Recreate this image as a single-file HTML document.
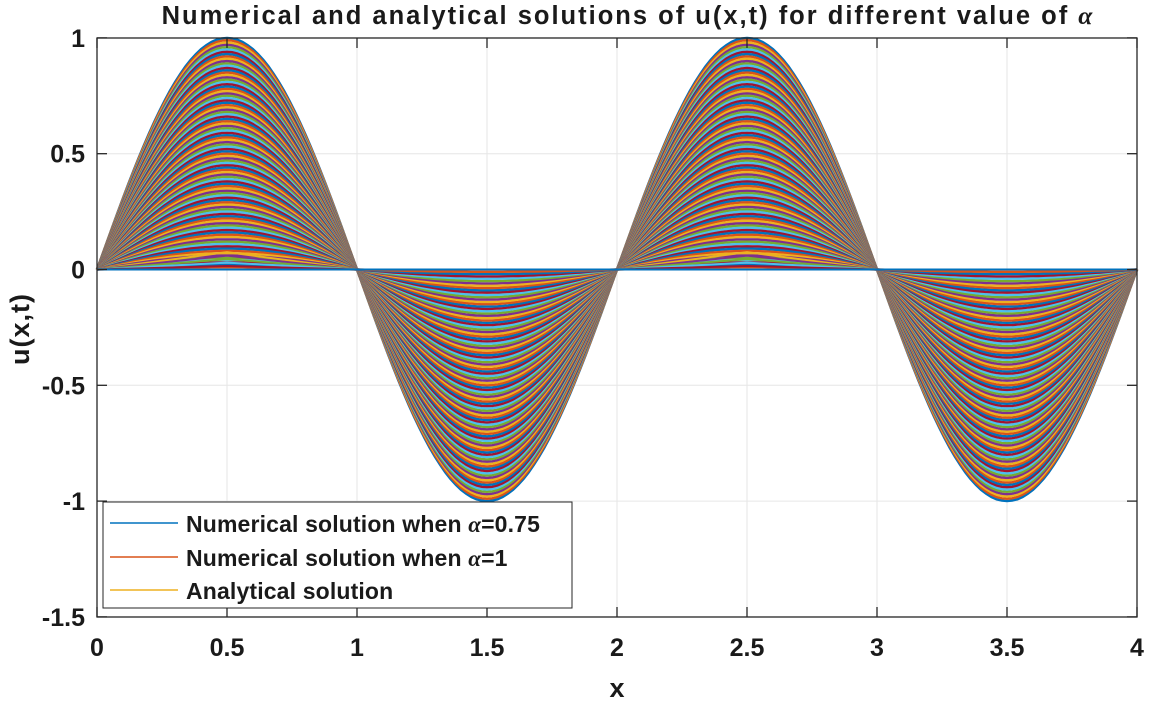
<!DOCTYPE html>
<html><head><meta charset="utf-8"><style>
body{margin:0;background:#fff;width:1150px;height:700px;overflow:hidden}
svg text{font-family:"Liberation Sans",sans-serif;font-weight:bold;fill:#1a1a1a}
</style></head><body>
<svg id="chart" width="1150" height="700" viewBox="0 0 1150 700">
<rect x="0" y="0" width="1150" height="700" fill="#fff"/>
<g id="grid"></g>
<g id="curves"></g>
<rect x="97" y="38" width="1040" height="579" fill="none" stroke="#262626" stroke-width="1.3"/>
<g id="ticks"></g>
<text x="628" y="24" text-anchor="middle" font-size="25.5" letter-spacing="2">Numerical and analytical solutions of u(x,t) for different value of <tspan font-family="Liberation Serif" font-style="italic">α</tspan></text>
<text x="617" y="697" text-anchor="middle" font-size="27">x</text>
<text transform="translate(29,329) rotate(-90)" text-anchor="middle" font-size="27" letter-spacing="1">u(x,t)</text>
<g>
<rect x="103" y="502" width="469" height="106" fill="#fff" stroke="#262626" stroke-width="1"/>
<line x1="110" y1="523" x2="178" y2="523" stroke="#0072BD" stroke-width="1.5"/>
<text x="186" y="532" font-size="23" letter-spacing="0.15">Numerical solution when <tspan font-family="Liberation Serif" font-style="italic">α</tspan>=0.75</text>
<line x1="110" y1="557" x2="178" y2="557" stroke="#D95319" stroke-width="1.5"/>
<text x="186" y="566" font-size="23" letter-spacing="0.15">Numerical solution when <tspan font-family="Liberation Serif" font-style="italic">α</tspan>=1</text>
<line x1="110" y1="590" x2="178" y2="590" stroke="#EDB120" stroke-width="1.5"/>
<text x="186" y="599" font-size="23" letter-spacing="0.15">Analytical solution</text>
</g>
</svg>
<script>
const xTicks=[0,0.5,1,1.5,2,2.5,3,3.5,4];
const yTicks=[1,0.5,0,-0.5,-1,-1.5];
const yTickLabels=["1","0.5","0","-0.5","-1","-1.5"];
const amplitudes=[1.00,0.99,0.98,0.97,0.96,0.95,0.94,0.93,0.92,0.91,0.90,0.89,0.88,0.87,0.86,0.85,0.84,0.83,0.82,0.81,0.80,0.79,0.78,0.77,0.76,0.75,0.74,0.73,0.72,0.71,0.70,0.69,0.68,0.67,0.66,0.65,0.64,0.63,0.62,0.61,0.60,0.59,0.58,0.57,0.56,0.55,0.54,0.53,0.52,0.51,0.50,0.49,0.48,0.47,0.46,0.45,0.44,0.43,0.42,0.41,0.40,0.39,0.38,0.37,0.36,0.35,0.34,0.33,0.32,0.31,0.30,0.29,0.28,0.27,0.26,0.25,0.24,0.23,0.22,0.21,0.20,0.19,0.18,0.17,0.16,0.15,0.14,0.13,0.12,0.11,0.10,0.09,0.08,0.07,0.06,0.05,0.04,0.03,0.02,0.01];
const smallPeaks=[0.075,0.06,0.045,0.03,0.015,0];
const colors=["#0072BD","#D95319","#EDB120","#7E2F8E","#77AC30","#4DBEEE","#A2142F"];
const X=v=>97+v*260, Y=v=>269.5-v*231.6;
const NS="http://www.w3.org/2000/svg";
const grid=document.getElementById('grid'),ticks=document.getElementById('ticks'),curves=document.getElementById('curves');
function mk(t,a,p){const e=document.createElementNS(NS,t);for(const k in a)e.setAttribute(k,a[k]);p.appendChild(e);return e;}
xTicks.forEach((v,i)=>{
 const g=mk('line',{x1:X(v),x2:X(v),y1:38,y2:617,stroke:'#e6e6e6','stroke-width':1},grid);
 
 
 mk('line',{x1:X(v),x2:X(v),y1:617,y2:607,stroke:'#262626','stroke-width':1.3},ticks);
 mk('line',{x1:X(v),x2:X(v),y1:38,y2:48,stroke:'#262626','stroke-width':1.3},ticks);
 const t=mk('text',{x:X(v),y:656,'text-anchor':'middle','font-size':25},ticks);
 t.textContent=String(v);
 
 
});
yTicks.forEach((v,i)=>{
 const g=mk('line',{x1:97,x2:1137,y1:Y(v),y2:Y(v),stroke:'#e6e6e6','stroke-width':1},grid);
 
 
 mk('line',{x1:97,x2:107,y1:Y(v),y2:Y(v),stroke:'#262626','stroke-width':1.3},ticks);
 mk('line',{x1:1127,x2:1137,y1:Y(v),y2:Y(v),stroke:'#262626','stroke-width':1.3},ticks);
 const t=mk('text',{x:85,y:Y(v)+9,'text-anchor':'end','font-size':25},ticks);
 t.textContent=yTickLabels[i];
 
 
});
let ci=0;
amplitudes.forEach(a=>{
 let d='';
 for(let k=0;k<=200;k++){const xv=k*4/200;d+=(k?'L':'M')+X(xv).toFixed(1)+','+Y(a*Math.sin(Math.PI*xv)).toFixed(1);}
 const p=mk('path',{d:d,fill:'none',stroke:colors[ci%7],'stroke-width':2.4},curves);
 
 
 ci++;
});
smallPeaks.forEach(a=>{
 const pts=[0,0.5,1,1.5,2,2.5,3,3.5,4];
 let d='';
 pts.forEach((xv,k)=>{const yv=(k%4==1)?a:0;d+=(k?'L':'M')+X(xv)+','+Y(yv).toFixed(1);});
 const p=mk('path',{d:d,fill:'none',stroke:colors[ci%7],'stroke-width':2},curves);
 
 
 ci++;
});
</script>
</body></html>
